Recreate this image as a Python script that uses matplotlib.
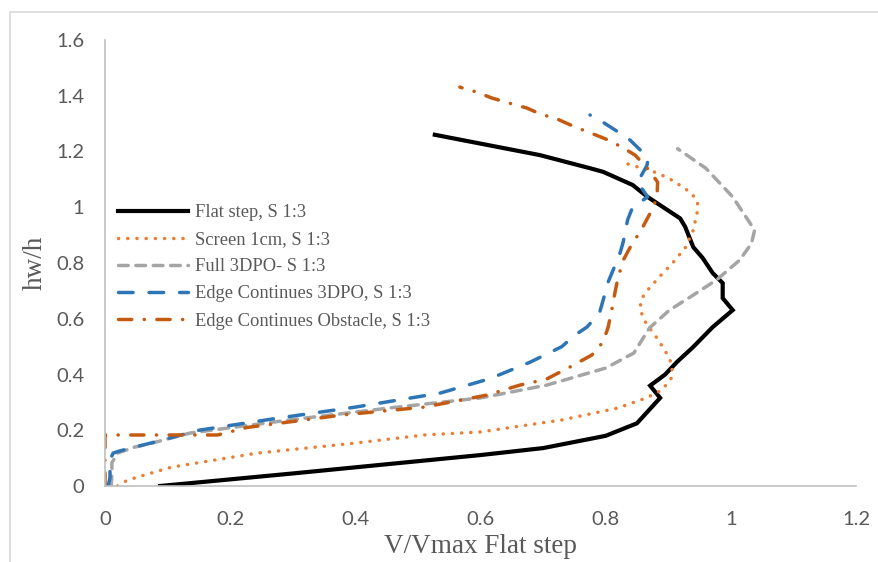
import numpy as np
import matplotlib.pyplot as plt
from matplotlib.patches import Rectangle

# data (x = V/Vmax, y = hw/h)
flat_x = [0.088, 0.30, 0.60, 0.70, 0.80, 0.85, 0.887, 0.871, 0.895, 0.914, 0.94, 0.971, 1.003,
          0.987, 0.987, 0.971, 0.955, 0.94, 0.927, 0.919, 0.867, 0.843, 0.796, 0.775, 0.695, 0.527]
flat_y = [0.0, 0.045, 0.111, 0.136, 0.18, 0.225, 0.316, 0.36, 0.40, 0.445, 0.499, 0.57, 0.631,
          0.674, 0.728, 0.764, 0.818, 0.857, 0.93, 0.96, 1.037, 1.08, 1.127, 1.14, 1.187, 1.26]

screen_x = [0.02, 0.035, 0.064, 0.107, 0.243, 0.40, 0.51, 0.60, 0.73, 0.82, 0.865, 0.89, 0.906,
            0.906, 0.90, 0.884, 0.875, 0.866, 0.859, 0.855, 0.858, 0.866, 0.887, 0.907, 0.927,
            0.94, 0.946, 0.947, 0.937, 0.923, 0.90, 0.87, 0.842, 0.827]
screen_y = [0.0, 0.02, 0.04, 0.068, 0.118, 0.154, 0.183, 0.194, 0.237, 0.28, 0.316, 0.344, 0.39,
            0.434, 0.466, 0.524, 0.553, 0.578, 0.607, 0.642, 0.674, 0.70, 0.753, 0.80, 0.854,
            0.918, 0.98, 1.02, 1.05, 1.073, 1.105, 1.134, 1.15, 1.162]

full_x = [0.01, 0.011, 0.011, 0.02, 0.048, 0.075, 0.136, 0.295, 0.455, 0.60, 0.706, 0.80, 0.845,
          0.87, 0.902, 0.94, 0.977, 1.014, 1.033, 1.038, 1.003, 0.96, 0.915]
full_y = [0.0, 0.047, 0.083, 0.118, 0.14, 0.154, 0.19, 0.237, 0.28, 0.316, 0.362, 0.423, 0.477,
          0.567, 0.631, 0.685, 0.739, 0.81, 0.87, 0.918, 1.037, 1.14, 1.21]

edge_x = [0.005, 0.008, 0.008, 0.013, 0.024, 0.08, 0.15, 0.275, 0.40, 0.535, 0.615, 0.68, 0.73,
          0.75, 0.77, 0.79, 0.796, 0.804, 0.812, 0.823, 0.828, 0.835, 0.843, 0.867, 0.851, 0.866,
          0.868, 0.86, 0.839, 0.82, 0.795, 0.775]
edge_y = [0.0, 0.03, 0.093, 0.118, 0.126, 0.158, 0.2, 0.243, 0.283, 0.333, 0.385, 0.445, 0.50,
          0.54, 0.57, 0.62, 0.667, 0.732, 0.775, 0.836, 0.875, 0.954, 1.0, 1.037, 1.09, 1.15,
          1.177, 1.195, 1.241, 1.27, 1.306, 1.331]

obst_x = [0.0, 0.0, 0.0, 0.18, 0.227, 0.38, 0.51, 0.61, 0.663, 0.705, 0.743, 0.778, 0.796, 0.804,
          0.81, 0.815, 0.82, 0.829, 0.843, 0.855, 0.87, 0.882, 0.883, 0.869, 0.847, 0.826, 0.80,
          0.772, 0.751, 0.722, 0.695, 0.674, 0.645, 0.618, 0.594, 0.567]
obst_y = [0.0, 0.12, 0.183, 0.183, 0.21, 0.255, 0.283, 0.326, 0.362, 0.383, 0.427, 0.47, 0.517,
          0.57, 0.635, 0.696, 0.75, 0.814, 0.872, 0.911, 0.974, 1.033, 1.09, 1.134, 1.187, 1.216,
          1.245, 1.27, 1.288, 1.317, 1.335, 1.356, 1.374, 1.392, 1.413, 1.431]

labels = ['Flat step, S 1:3', 'Screen 1cm, S 1:3', 'Full 3DPO- S 1:3',
          'Edge Continues 3DPO, S 1:3', 'Edge Continues Obstacle, S 1:3']

W, H = 879, 562
fig = plt.figure(figsize=(W/100, H/100), dpi=100)
ax = fig.add_axes([105/W, 1-486/H, 751/W, 446/H])

lw = 2.5
ax.plot(flat_x, flat_y, color='black', lw=3, solid_joinstyle='miter', label=labels[0])
ax.plot(screen_x, screen_y, color='#ED7D31', lw=lw, linestyle=(0, (0.05, 2.6)),
        dash_capstyle='round', label=labels[1])
ax.plot(full_x, full_y, color='#A5A5A5', lw=lw, linestyle=(0, (2.8, 2.2)),
        dash_capstyle='round', label=labels[2])
ax.plot(edge_x, edge_y, color='#2E75B6', lw=lw, linestyle=(0, (4.2, 4.6)),
        dash_capstyle='round', label=labels[3])
ax.plot(obst_x, obst_y, color='#C55A11', lw=lw, linestyle=(0, (3.8, 3.6, 0.05, 3.6)),
        dash_capstyle='round', label=labels[4])

ax.set_xlim(0, 1.2)
ax.set_ylim(0, 1.6)
ax.set_xticks(np.arange(0, 1.21, 0.2))
ax.set_yticks(np.arange(0, 1.61, 0.2))
ax.set_xticklabels(['0', '0.2', '0.4', '0.6', '0.8', '1', '1.2'])
ax.set_yticklabels(['0', '0.2', '0.4', '0.6', '0.8', '1', '1.2', '1.4', '1.6'])
ax.tick_params(length=0, labelsize=14.5, colors='#595959')
ax.tick_params(axis='x', pad=18)
ax.tick_params(axis='y', pad=15)
for t in ax.get_xticklabels() + ax.get_yticklabels():
    t.set_fontfamily('Lato')
for s in ['top', 'right']:
    ax.spines[s].set_visible(False)
for s in ['left', 'bottom']:
    ax.spines[s].set_color('#BFBFBF')
    ax.spines[s].set_linewidth(1.2)

ax.set_xlabel('V/Vmax Flat step', fontfamily='Liberation Serif', fontsize=19.5,
              color='#595959', labelpad=4)
ax.set_ylabel('hw/h', fontfamily='Liberation Serif', fontsize=19.5, color='#595959', labelpad=6)

leg = ax.legend(loc='upper left', bbox_to_anchor=(118/W, 1-204/H), bbox_transform=fig.transFigure,
                frameon=False, prop={'family': 'Liberation Serif', 'size': 13.3},
                handlelength=3.8, handletextpad=0.35, labelspacing=0.55,
                borderpad=0, borderaxespad=0)
for t in leg.get_texts():
    t.set_color('#595959')

# outer chart frame
fig.add_artist(Rectangle((10/W, -0.5), 2, 1.5 - 12/H, transform=fig.transFigure,
                         fill=False, edgecolor='#D9D9D9', lw=1.2))

fig.savefig('out.png', dpi=100)
